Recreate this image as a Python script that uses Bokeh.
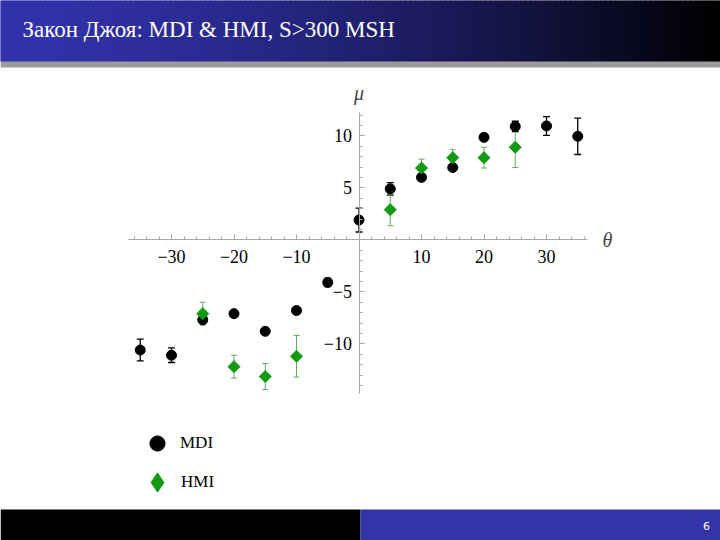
import numpy as np
from bokeh.plotting import figure
from bokeh.models import (Range1d, FixedTicker, Whisker, TeeHead, ColumnDataSource,
                          Label, Legend, LegendItem)
from bokeh.embed import file_html
from bokeh.resources import INLINE

# ---------------- data ----------------
title_text = "Закон Джоя: MDI & HMI, S>300 MSH"
page_number = "6"
series_names = ["MDI", "HMI"]

theta_mdi = [-35, -30, -25, -20, -15, -10, -5, 0, 5, 10, 15, 20, 25, 30, 35]
mu_mdi = [-10.6, -11.1, -7.7, -7.1, -8.8, -6.8, -4.1, 1.9, 4.9, 6.0, 6.95, 9.85, 10.9, 10.95, 9.95]
err_mdi = [1.05, 0.7, 0.3, 0.2, 0.2, 0.2, 0.4, 1.15, 0.6, 0.2, 0.2, 0.3, 0.5, 0.9, 1.75]

theta_hmi = [-25, -20, -15, -10, 5, 10, 15, 20, 25]
mu_hmi = [-7.1, -12.2, -13.15, -11.2, 2.9, 6.9, 7.9, 7.9, 8.9]
err_hmi = [1.1, 1.1, 1.25, 2.0, 1.55, 0.85, 0.8, 1.0, 1.95]

x_major = [-30, -20, -10, 10, 20, 30]
x_tick_labels = ["\u221230", "\u221220", "\u221210", "10", "20", "30"]
y_major = [-10, -5, 5, 10]
y_tick_labels = ["\u221210", "\u22125", "5", "10"]
x_minor = list(range(-36, 37, 2))
y_minor = list(range(-14, 13, 1))

W, H = 720, 540
SERIF = "Liberation Serif"
BLUE = "#3333aa"
GREEN = "#129a12"
GREEN_ERR = "#5fae5f"
AXIS_GRAY = "#a8a8a8"

# data <-> pixel calibration of the chart area
X0_PX, X_SCALE = 358.5, 6.25
Y0_PX, Y_SCALE = 239.3, 10.4

p = figure(width=W, height=H,
           x_range=Range1d(-X0_PX / X_SCALE, (W - X0_PX) / X_SCALE),
           y_range=Range1d((Y0_PX - H) / Y_SCALE, Y0_PX / Y_SCALE),
           output_backend="svg", toolbar_location=None, min_border=0)
p.extra_x_ranges = {"px": Range1d(0, W)}
p.extra_y_ranges = {"px": Range1d(H, 0)}
p.outline_line_color = None
p.grid.visible = False

# ---------------- header ----------------
n = 144
edges = np.linspace(0, 720, n + 1)
mid = (edges[:-1] + edges[1:]) / 2
t = (mid / 720.0) ** 1.5
c0 = np.array([50, 50, 172])
cols = ["#%02x%02x%02x" % tuple(int(v) for v in (c0 * (1 - ti))) for ti in t]
p.quad(left=edges[:-1], right=edges[1:], top=0, bottom=61, fill_color=cols, line_color=cols,
       line_width=1, x_range_name="px", y_range_name="px")
p.quad(left=0, right=720, top=61, bottom=67, fill_color="#9c9c9c", line_color=None,
       x_range_name="px", y_range_name="px")
p.add_layout(Label(x=22, y=29, text=title_text, text_font=SERIF, text_font_size="23px",
                   text_color="white", text_baseline="middle", text_align="left",
                   x_range_name="px", y_range_name="px"))

# ---------------- footer ----------------
p.quad(left=0, right=360, top=509, bottom=540, fill_color="black", line_color=None,
       x_range_name="px", y_range_name="px")
p.quad(left=360, right=720, top=509, bottom=540, fill_color=BLUE, line_color=None,
       x_range_name="px", y_range_name="px")
p.add_layout(Label(x=706, y=525, text=page_number, text_font="DejaVu Sans",
                   text_font_size="11px", text_color="white",
                   text_align="center", text_baseline="middle",
                   x_range_name="px", y_range_name="px"))

# ---------------- axes ----------------
xa = p.xaxis[0]
ya = p.yaxis[0]
xa.fixed_location = 0
ya.fixed_location = 0
xa.bounds = ((128 - X0_PX) / X_SCALE, (587 - X0_PX) / X_SCALE)
ya.bounds = ((Y0_PX - 393) / Y_SCALE, (Y0_PX - 111.5) / Y_SCALE)
xa.ticker = FixedTicker(ticks=x_major, minor_ticks=x_minor)
ya.ticker = FixedTicker(ticks=y_major, minor_ticks=y_minor)
xa.major_label_overrides = dict(zip(x_major, x_tick_labels))
ya.major_label_overrides = dict(zip(y_major, y_tick_labels))
for ax in (xa, ya):
    ax.axis_line_color = AXIS_GRAY
    ax.major_tick_line_color = AXIS_GRAY
    ax.minor_tick_line_color = AXIS_GRAY
    ax.major_tick_in = 5
    ax.major_tick_out = 0
    ax.minor_tick_in = 3
    ax.minor_tick_out = 0
    ax.major_label_text_font = SERIF
    ax.major_label_text_font_size = "18px"
    ax.major_label_text_color = "black"
xa.major_label_standoff = 10
ya.major_label_standoff = 7

# ---------------- error bars & points ----------------
src_m = ColumnDataSource(dict(x=theta_mdi,
                              upper=[m + e for m, e in zip(mu_mdi, err_mdi)],
                              lower=[m - e for m, e in zip(mu_mdi, err_mdi)]))
src_h = ColumnDataSource(dict(x=theta_hmi,
                              upper=[m + e for m, e in zip(mu_hmi, err_hmi)],
                              lower=[m - e for m, e in zip(mu_hmi, err_hmi)]))

p.add_layout(Whisker(source=src_m, base="x", upper="upper", lower="lower",
                     line_color="black", line_width=1.3, level="underlay",
                     upper_head=TeeHead(size=7, line_color="black", line_width=1.3),
                     lower_head=TeeHead(size=7, line_color="black", line_width=1.3)))
p.add_layout(Whisker(source=src_h, base="x", upper="upper", lower="lower",
                     line_color=GREEN_ERR, line_width=1, level="underlay",
                     upper_head=TeeHead(size=6, line_color=GREEN_ERR, line_width=1),
                     lower_head=TeeHead(size=6, line_color=GREEN_ERR, line_width=1)))

r_m = p.scatter(theta_mdi, mu_mdi, marker="circle", size=10, fill_color="black", line_color="black")
# diamond version of HMI (hidden under the rotated squares) used for the legend glyph
r_h_leg = p.scatter(theta_hmi, mu_hmi, marker="diamond", size=10, fill_color=GREEN, line_color=GREEN)
r_h = p.scatter(theta_hmi, mu_hmi, marker="square", angle=np.pi / 4, size=8.5,
                fill_color=GREEN, line_color=GREEN)

leg_m = Legend(items=[LegendItem(label=series_names[0], renderers=[r_m])], location=(138, 78),
               glyph_width=38, glyph_height=38, label_height=38, label_standoff=4,
               padding=0, margin=0, border_line_color=None, background_fill_alpha=0,
               label_text_font=SERIF, label_text_font_size="17px", label_text_color="black")
leg_h = Legend(items=[LegendItem(label=series_names[1], renderers=[r_h_leg])], location=(133, 34),
               glyph_width=48, glyph_height=48, label_height=48, label_standoff=0,
               padding=0, margin=0, border_line_color=None, background_fill_alpha=0,
               label_text_font=SERIF, label_text_font_size="17px", label_text_color="black")
p.add_layout(leg_m, "center")
p.add_layout(leg_h, "center")

p.add_layout(Label(x=0, y=14.07, text="\u03bc", text_font=SERIF, text_font_style="italic",
                   text_font_size="20px", text_align="center", text_baseline="middle"))
p.add_layout(Label(x=39.76, y=0, text="\u03b8", text_font=SERIF, text_font_style="italic",
                   text_font_size="20px", text_align="center", text_baseline="middle"))

open("out.html", "w").write(file_html(p, INLINE))
